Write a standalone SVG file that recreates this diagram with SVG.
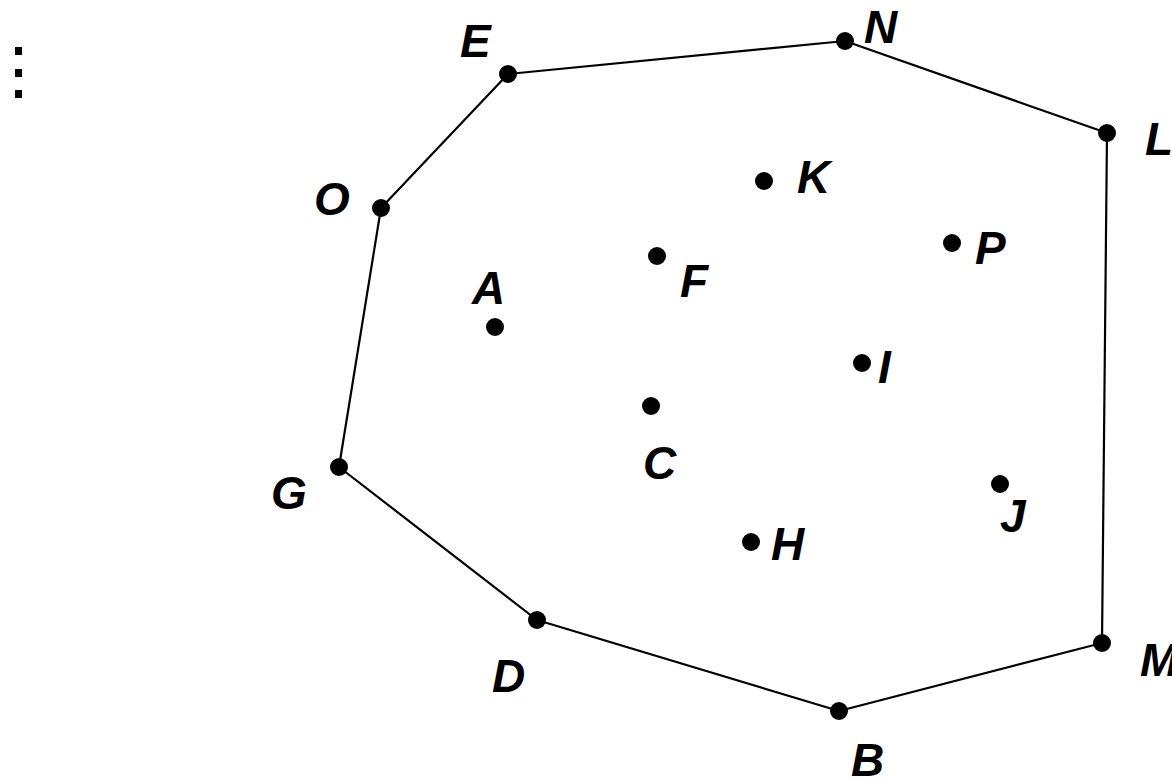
<svg xmlns="http://www.w3.org/2000/svg" width="1172" height="780" viewBox="0 0 1172 780">
<style>
.pt{fill:#000}
.lb{font-family:"Liberation Sans",Arial,sans-serif;font-style:italic;font-weight:bold;font-size:46px;fill:#000}
.hull{fill:none;stroke:#000;stroke-width:2.2;stroke-linejoin:round}
</style>
<rect width="1172" height="780" fill="#fff"/>
<rect x="15" y="47" width="7" height="8" fill="#000"/>
<rect x="15" y="69" width="7" height="8" fill="#000"/>
<rect x="15" y="90" width="7" height="8" fill="#000"/>
<g id="connectors">
<polygon class="hull" points="508,74 845,41 1107,133 1102,643 839,711 537,620 339,467 381,208"/>
</g>
<g id="E"><circle class="pt" cx="508" cy="74" r="9"/><text class="lb" x="460" y="57">E</text></g>
<g id="N"><circle class="pt" cx="845" cy="41" r="9"/><text class="lb" x="864" y="43">N</text></g>
<g id="L"><circle class="pt" cx="1107" cy="133" r="9"/><text class="lb" x="1145" y="155">L</text></g>
<g id="M"><circle class="pt" cx="1102" cy="643" r="9"/><text class="lb" x="1140" y="676">M</text></g>
<g id="B"><circle class="pt" cx="839" cy="711" r="9"/><text class="lb" x="851" y="776">B</text></g>
<g id="D"><circle class="pt" cx="537" cy="620" r="9"/><text class="lb" x="492" y="692">D</text></g>
<g id="G"><circle class="pt" cx="339" cy="467" r="9"/><text class="lb" x="271" y="509">G</text></g>
<g id="O"><circle class="pt" cx="381" cy="208" r="9"/><text class="lb" x="314" y="215">O</text></g>
<g id="K"><circle class="pt" cx="764" cy="181" r="9"/><text class="lb" x="797" y="193">K</text></g>
<g id="F"><circle class="pt" cx="657" cy="256" r="9"/><text class="lb" x="680" y="297">F</text></g>
<g id="P"><circle class="pt" cx="952" cy="243" r="9"/><text class="lb" x="975" y="264">P</text></g>
<g id="A"><circle class="pt" cx="495" cy="327" r="9"/><text class="lb" x="472" y="304">A</text></g>
<g id="I"><circle class="pt" cx="862" cy="363" r="9"/><text class="lb" x="878" y="383">I</text></g>
<g id="C"><circle class="pt" cx="651" cy="406" r="9"/><text class="lb" x="643" y="479">C</text></g>
<g id="J"><circle class="pt" cx="1000" cy="484" r="9"/><text class="lb" x="1000" y="532">J</text></g>
<g id="H"><circle class="pt" cx="751" cy="542" r="9"/><text class="lb" x="771" y="560">H</text></g>
</svg>
